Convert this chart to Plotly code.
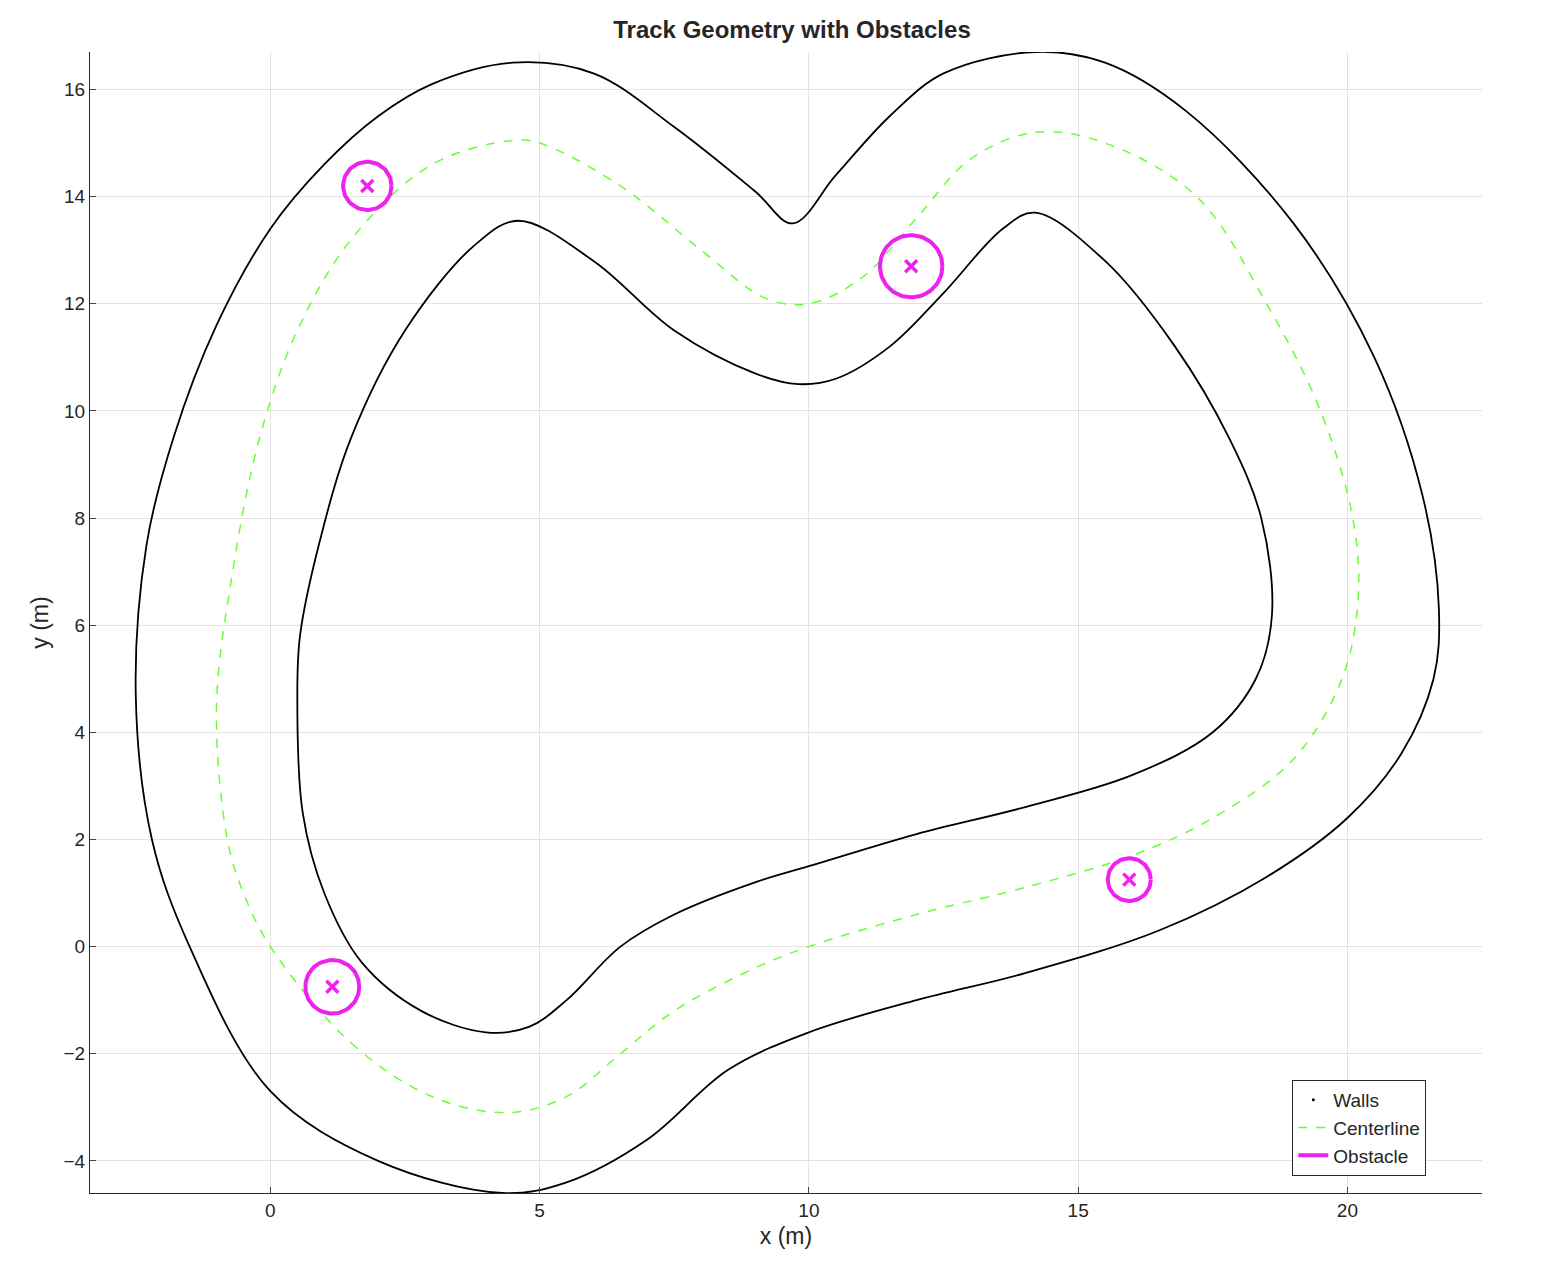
import numpy as np
import plotly.graph_objects as go

# centerline (m)
center_x = [0, 1.5, 3, 4.4, 5.5, 6.5, 7.5, 9, 10, 12, 14, 16, 17.5, 19, 19.9, 20.2, 20.1, 19.5, 18.5, 17.2,
            15.5, 14.2, 13, 12, 11, 10, 9.2, 8, 6.5, 5, 4.5, 3, 1.5, 0.5, -0.2, -0.7, -1, -0.8, -0.5, 0]
center_y = [0, -1.8, -2.8, -3.1, -2.8, -2, -1.2, -0.4, 0, 0.6, 1.1, 1.7, 2.4, 3.5, 5, 6.5, 8, 10, 12, 14,
            15.0, 15.2, 14.7, 13.6, 12.5, 12, 12.1, 13, 14.2, 15, 15.05, 14.6, 13.2, 11.5, 9.5, 7, 4.5, 2, 1, 0]

# outer wall, starting and ending at the cusp near (9.7, 13.5)
outer_x = [9.7, 10.5, 11.5, 12.5, 14.2, 15.5, 17, 19, 20.5, 21.4, 21.7, 21.6, 21, 20, 18.5, 16.5, 14, 12,
           10, 8.5, 7, 5.5, 4.3, 2, 0, -1.5, -2.2, -2.5, -2.3, -1.8, -1, 0, 1, 2, 3, 4.5, 6, 7.5, 9.0, 9.7]
outer_y = [13.5, 14.4, 15.5, 16.3, 16.7, 16.5, 15.6, 13.5, 11, 8.4, 6.3, 5, 3.6, 2.4, 1.3, 0.3, -0.5, -1,
           -1.6, -2.3, -3.6, -4.4, -4.6, -4, -2.7, 0, 2, 4.7, 7.5, 9.5, 11.6, 13.4, 14.6, 15.5, 16.1, 16.5,
           16.3, 15.3, 14.1, 13.5]

# inner wall
inner_x = [0.5, 0.6, 1, 1.7, 2.8, 4, 4.8, 5.5, 6.5, 7.5, 9, 10, 12, 14, 16, 17.5, 18.3, 18.6, 18.4, 17.8,
           16.8, 15.5, 14.2, 13.6, 12.5, 11.5, 10.5, 9.8, 9, 7.5, 6, 4.6, 3.8, 2.5, 1.5, 0.9, 0.55, 0.5]
inner_y = [4.7, 2.5, 1, -0.3, -1.2, -1.6, -1.5, -1, 0, 0.6, 1.2, 1.5, 2.1, 2.6, 3.2, 4, 5, 6.2, 8, 9.5,
           11.2, 12.8, 13.7, 13.4, 12.2, 11.2, 10.6, 10.5, 10.7, 11.5, 12.8, 13.55, 13.1, 11.5, 9.5, 7.5, 5.8, 4.7]

# obstacles
obs_x = [1.8, 11.9, 15.95, 1.15]
obs_y = [14.2, 12.7, 1.25, -0.75]
obs_r = [0.45, 0.58, 0.4, 0.5]

fig = go.Figure()

for wx, wy in [(outer_x, outer_y), (inner_x, inner_y)]:
    fig.add_trace(go.Scatter(x=wx, y=wy, mode='lines', line=dict(color='black', width=1.8, shape='spline'),
                             showlegend=False))
fig.add_trace(go.Scatter(name='Walls', x=[None], y=[None], mode='markers',
                         marker=dict(color='black', size=3)))

fig.add_trace(go.Scatter(name='Centerline', x=center_x, y=center_y, mode='lines',
                         line=dict(color='#66ff33', width=1.5, dash='dash', shape='spline')))

t = np.linspace(0, 2 * np.pi, 80)
for i in range(len(obs_x)):
    fig.add_trace(go.Scatter(name='Obstacle', x=obs_x[i] + obs_r[i] * np.cos(t), y=obs_y[i] + obs_r[i] * np.sin(t),
                             mode='lines', line=dict(color='#ee22ee', width=4), showlegend=(i == 0)))
fig.add_trace(go.Scatter(x=obs_x, y=obs_y, mode='markers', showlegend=False,
                         marker=dict(symbol='x-thin', size=12, line=dict(color='#ee22ee', width=3.5))))

fig.update_layout(
    width=1568, height=1280, plot_bgcolor='white', paper_bgcolor='white',
    font=dict(family='Liberation Sans, Arial', size=19, color='#262626'),
    title=dict(text='<b>Track Geometry with Obstacles</b>', x=0.5, y=0.99, xanchor='center',
               font=dict(size=24, color='#262626')),
    margin=dict(l=82, r=94, t=44, b=95),
    legend=dict(x=0.96, y=0.015, xanchor='right', yanchor='bottom', bgcolor='white',
                bordercolor='#262626', borderwidth=1, font=dict(size=19), tracegroupgap=0),
)
fig.update_xaxes(range=[-3.35, 22.5], title='x (m)', tickvals=[0, 5, 10, 15, 20], showgrid=True,
                 gridcolor='#e3e3e3', zeroline=False, showline=True, linecolor='#262626',
                 ticks='inside', ticklen=6, title_standoff=8)
fig.update_yaxes(range=[-4.6, 16.7], title='y (m)', dtick=2, showgrid=True, gridcolor='#e3e3e3',
                 zeroline=False, showline=True, linecolor='#262626', ticks='inside', ticklen=6,
                 title_standoff=8)

fig.write_html("out.html")
